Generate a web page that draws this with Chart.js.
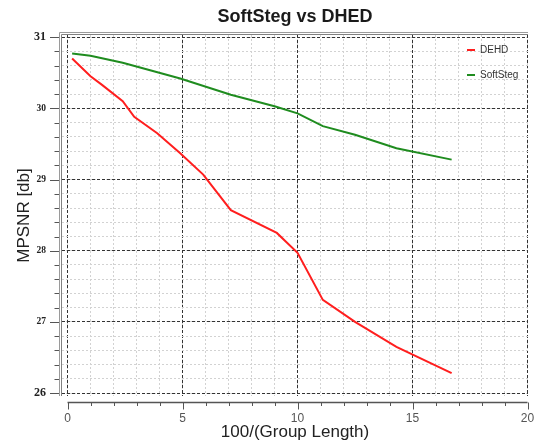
<!DOCTYPE html>
<html>
<head>
<meta charset="utf-8">
<script src="https://cdn.jsdelivr.net/npm/chart.js@4.4.0/dist/chart.umd.min.js"></script>
<style>
html, body { margin: 0; padding: 0; background: #fff; }
</style>
</head>
<body>
<canvas id="chart" width="534" height="443"></canvas>
<script>
// Values
const dehdX = [0.2, 1.0, 1.5, 2.4, 2.9, 3.9, 4.9, 5.9, 7.1, 9.1, 10.0, 11.1, 12.5, 14.3, 16.7];
const dehdY = [30.70, 30.45, 30.33, 30.10, 29.88, 29.65, 29.37, 29.07, 28.57, 28.25, 27.97, 27.31, 27.00, 26.65, 26.28];
const softX = [0.2, 1.0, 2.4, 4.9, 7.1, 9.0, 10.0, 11.1, 12.5, 14.3, 16.7];
const softY = [30.77, 30.74, 30.64, 30.42, 30.19, 30.03, 29.93, 29.75, 29.63, 29.44, 29.28];

// Axis ticks
const xTicks = [0, 5, 10, 15, 20];
const yTicks = [26, 27, 28, 29, 30, 31];
const xMinorStep = 1;
const yMinorStep = 0.2;

// Axis ranges (the frame is a little wider than the data range)
const X_MIN = -0.24, X_MAX = 20.02;
const Y_MIN = 25.96, Y_MAX = 31.03;

const SANS = '"Liberation Sans", Arial, sans-serif';
const SERIF = '"Liberation Serif", "Times New Roman", serif';

function minorTicks(ticks, step) {
    const out = [];
    const first = ticks[0], last = ticks[ticks.length - 1];
    const n = Math.round((last - first) / step);
    for (let i = 0; i <= n; i++) {
        out.push(Math.round((first + i * step) * 10) / 10);
    }
    return out;
}
const xMinor = minorTicks(xTicks, xMinorStep);
const yMinor = minorTicks(yTicks, yMinorStep);

// Force a scale size so the plot frame lands where the reference has it
function fixedSize(w, h) {
    return function(scale) {
        if (w !== null) scale.width = w;
        if (h !== null) scale.height = h;
        scale.paddingLeft = 0;
        scale.paddingRight = 0;
        scale.paddingTop = 0;
        scale.paddingBottom = 0;
    };
}

function toPoints(xs, ys) {
    return xs.map((x, i) => ({ x: x, y: ys[i] }));
}

// end labels on the y axis are bigger than the inner ones
function yTickFont(c) {
    const v = c.tick ? c.tick.value : null;
    const isEnd = v === yTicks[0] || v === yTicks[yTicks.length - 1];
    return { family: SERIF, size: isEnd ? 12 : 9.5, weight: 'bold' };
}

// Frame, axis ticks and legend drawn from the chart's own scales
const decorPlugin = {
    id: 'decor',
    afterLayout(chart) {
        // centre the title over the plot, not the whole canvas
        const tb = chart.titleBlock;
        if (tb) {
            tb.left = chart.chartArea.left;
            tb.right = chart.chartArea.right;
        }
    },
    afterDatasetsDraw(chart) {
        const ctx = chart.ctx;
        const area = chart.chartArea;
        ctx.save();
        ctx.font = '10px ' + SANS;
        ctx.textBaseline = 'middle';
        ctx.textAlign = 'left';
        const rows = [50, 75];
        chart.data.datasets.forEach((ds, i) => {
            const y = rows[i];
            ctx.strokeStyle = ds.borderColor;
            ctx.lineWidth = 2;
            ctx.beginPath();
            ctx.moveTo(area.right - 61, y);
            ctx.lineTo(area.right - 53, y);
            ctx.stroke();
            ctx.fillStyle = '#333';
            ctx.fillText(ds.label, area.right - 48, y + 0.5);
        });
        ctx.restore();
    },
    afterDraw(chart) {
        const ctx = chart.ctx;
        const area = chart.chartArea;
        const xs = chart.scales.x;
        const ys = chart.scales.y;
        ctx.save();

        // double frame line on top and left
        ctx.lineWidth = 1;
        ctx.strokeStyle = '#9a9a9a';
        ctx.beginPath();
        ctx.moveTo(area.left - 2.5, area.bottom);
        ctx.lineTo(area.left - 2.5, area.top - 2.5);
        ctx.lineTo(area.right, area.top - 2.5);
        ctx.stroke();
        ctx.strokeStyle = '#808080';
        ctx.beginPath();
        ctx.moveTo(area.left - 0.5, area.bottom);
        ctx.lineTo(area.left - 0.5, area.top - 0.5);
        ctx.lineTo(area.right, area.top - 0.5);
        ctx.stroke();

        // y axis tick marks
        ctx.strokeStyle = '#555';
        ctx.beginPath();
        yMinor.forEach(v => {
            const py = Math.round(ys.getPixelForValue(v)) + 0.5;
            const len = yTicks.includes(v) ? 9 : 4.5;
            ctx.moveTo(area.left - 3, py);
            ctx.lineTo(area.left - 3 - len, py);
        });
        ctx.stroke();

        // x axis line, set apart from the frame
        const axisY = area.bottom + 6.5;
        const x0 = xs.getPixelForValue(xTicks[0]);
        const x1 = xs.getPixelForValue(xTicks[xTicks.length - 1]);
        ctx.strokeStyle = '#555';
        ctx.lineWidth = 1.5;
        ctx.beginPath();
        ctx.moveTo(x0, axisY);
        ctx.lineTo(x1, axisY);
        ctx.stroke();
        ctx.lineWidth = 1;
        ctx.beginPath();
        xMinor.forEach(v => {
            const px = Math.round(xs.getPixelForValue(v)) + 0.5;
            const len = xTicks.includes(v) ? 7 : 3.5;
            ctx.moveTo(px, axisY);
            ctx.lineTo(px, axisY + len);
        });
        ctx.stroke();
        ctx.restore();
    }
};

const ctx = document.getElementById('chart').getContext('2d');
const chart = new Chart(ctx, {
    type: 'line',
    data: {
        datasets: [{
            label: 'DEHD',
            data: toPoints(dehdX, dehdY),
            borderColor: '#ff1e1e',
            borderWidth: 2,
            pointRadius: 0,
            tension: 0,
            fill: false
        }, {
            label: 'SoftSteg',
            data: toPoints(softX, softY),
            borderColor: '#1f8c1f',
            borderWidth: 2,
            pointRadius: 0,
            tension: 0,
            fill: false
        }]
    },
    options: {
        responsive: false,
        animation: false,
        devicePixelRatio: 1,
        layout: { padding: { left: 0, right: 6, top: 0, bottom: 0 } },
        plugins: {
            legend: { display: false },
            tooltip: { enabled: false },
            title: {
                display: true,
                text: 'SoftSteg vs DHED',
                color: '#1a1a1a',
                font: { family: SANS, size: 18, weight: 'bold' },
                padding: { top: 6, bottom: 7.4 }
            }
        },
        scales: {
            x: {
                type: 'linear',
                position: 'bottom',
                min: X_MIN,
                max: X_MAX,
                afterBuildTicks: s => { s.ticks = xMinor.map(v => ({ value: v })); },
                afterFit: fixedSize(null, 47),
                ticks: {
                    autoSkip: false,
                    maxRotation: 0,
                    padding: 3,
                    color: '#555',
                    font: { family: SANS, size: 12 },
                    callback: v => xTicks.includes(v) ? String(v) : ''
                },
                grid: { color: '#d2d2d2', lineWidth: 1, tickLength: 12, tickColor: 'rgba(0,0,0,0)' },
                border: { display: false, dash: [2, 2] },
                title: {
                    display: true,
                    text: '100/(Group Length)',
                    color: '#222',
                    font: { family: SANS, size: 17 },
                    padding: { top: 0, bottom: 0 }
                }
            },
            x2: {
                type: 'linear',
                position: 'bottom',
                min: X_MIN,
                max: X_MAX,
                afterBuildTicks: s => { s.ticks = xTicks.map(v => ({ value: v })); },
                afterFit: fixedSize(null, 0),
                ticks: { display: false },
                grid: { color: '#333', lineWidth: 1, drawTicks: false },
                border: { display: false, dash: [3, 2] }
            },
            y: {
                type: 'linear',
                position: 'left',
                min: Y_MIN,
                max: Y_MAX,
                afterBuildTicks: s => { s.ticks = yMinor.map(v => ({ value: v })); },
                afterFit: fixedSize(62, null),
                ticks: {
                    autoSkip: false,
                    padding: 4,
                    color: '#222',
                    font: yTickFont,
                    callback: v => yTicks.includes(v) ? String(v) : ''
                },
                grid: { color: '#d2d2d2', lineWidth: 1, tickLength: 12, tickColor: 'rgba(0,0,0,0)' },
                border: { display: false, dash: [2, 2] },
                title: {
                    display: true,
                    text: 'MPSNR [db]',
                    color: '#222',
                    font: { family: SANS, size: 17 },
                    padding: { top: 14, bottom: 0 }
                }
            },
            y2: {
                type: 'linear',
                position: 'left',
                min: Y_MIN,
                max: Y_MAX,
                afterBuildTicks: s => { s.ticks = yTicks.map(v => ({ value: v })); },
                afterFit: fixedSize(0, null),
                ticks: { display: false },
                grid: { color: '#333', lineWidth: 1, drawTicks: false },
                border: { display: false, dash: [3, 2] }
            }
        }
    },
    plugins: [decorPlugin]
});
</script>
</body>
</html>
